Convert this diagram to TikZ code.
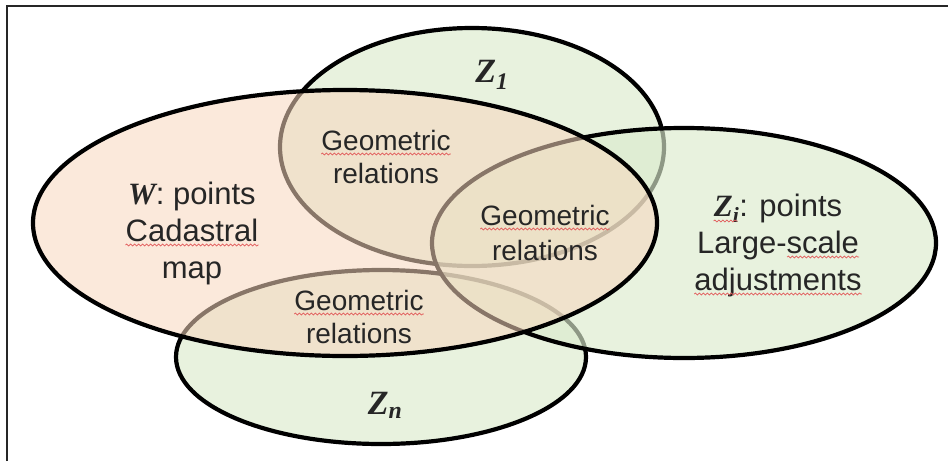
\documentclass[tikz,border=0pt]{standalone}
\usepackage{fontspec}
\setmainfont{Liberation Sans}
\newfontfamily\timesfont{Liberation Serif}
\usepackage{xcolor}
\usepackage{tikz}
\usetikzlibrary{decorations.pathmorphing}
\definecolor{zgreen}{RGB}{219,235,205}
\definecolor{wpeach}{RGB}{248,215,190}
\definecolor{spellred}{RGB}{226,90,90}
\newcommand\serifbi{\timesfont\bfseries\itshape}
\newcommand\setsym[2]{{\serifbi #1\textsubscript{#2}}}

\begin{document}
\begin{tikzpicture}[x=1pt, y=-1pt,
  venn/.style={line width=4.2pt, draw=black},
  zset/.style={venn, fill=zgreen, fill opacity=0.65},
  wset/.style={venn, fill=wpeach, fill opacity=0.55},
  bigline/.style={anchor=base, inner sep=0pt, text=black!85, font=\fontsize{31}{37}\selectfont},
  relline/.style={anchor=base, inner sep=0pt, text=black!85, font=\fontsize{28}{34}\selectfont},
  setlbl/.style={text=black!85, font=\fontsize{34}{40}\selectfont},
  spell/.style={spellred, line width=0.7pt, decorate, decoration={snake, amplitude=1pt, segment length=4pt}}]
\useasboundingbox (0,0) rectangle (948,461);
\draw[line width=2pt, black!85] (7,461) -- (7,6) -- (948,6);
\filldraw[zset] (472,147) ellipse [x radius=192pt, y radius=119pt];
\filldraw[zset] (381,357) ellipse [x radius=205pt, y radius=87pt];
\filldraw[zset] (684,243) ellipse [x radius=252pt, y radius=115pt];
\filldraw[wset] (345,223) ellipse [x radius=312pt, y radius=133pt];
\node[setlbl] (z1) at (492,75) {\setsym{Z}{1}};
\node[setlbl] (zn) at (385,405) {\setsym{Z}{n}};
\node[bigline] (wpts) at (192,204) {{\serifbi W}: points};
\node[bigline] (wcad) at (192,241) {Cadastral};
\node[bigline] (wmap) at (192,278) {map};
\node[bigline] (zipts) at (778,216) {\setsym{Z}{i}: points};
\node[bigline] (zilarge) at (778,253) {Large-scale};
\node[bigline] (ziadj) at (778,290) {adjustments};
\node[relline] (geoa) at (386,150) {Geometric};
\node[relline] (rela) at (386,183) {relations};
\node[relline] (geob) at (545,225) {Geometric};
\node[relline] (relb) at (545,260) {relations};
\node[relline] (geoc) at (359,310) {Geometric};
\node[relline] (relc) at (359,343) {relations};
\foreach \w in {wcad, ziadj, geoa, geob, geoc}
  \draw[spell] ([yshift=-4pt]\w.base west) -- ([yshift=-4pt]\w.base east);
\draw[spell] ([yshift=-4pt,xshift=-72pt]zilarge.base east) -- ([yshift=-4pt]zilarge.base east);
\draw[spell] ([yshift=-5pt]zipts.base west) -- ([yshift=-5pt,xshift=24pt]zipts.base west);
\end{tikzpicture}
\end{document}
